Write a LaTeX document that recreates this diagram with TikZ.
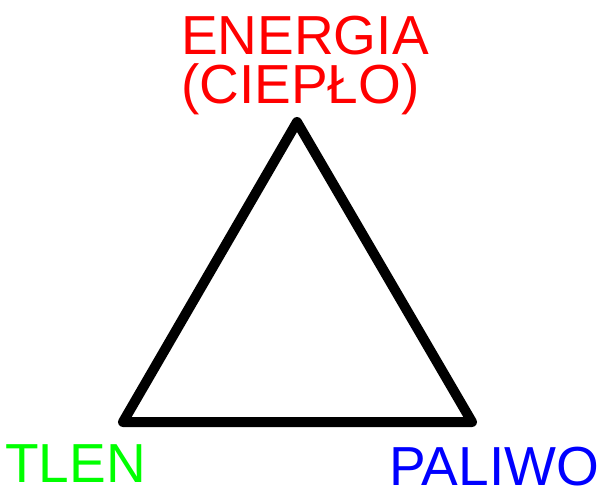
\documentclass[tikz,border=0pt]{standalone}
\usepackage{fontspec}
\setmainfont{Liberation Sans}
\begin{document}
\begin{tikzpicture}[x=1pt,y=-1pt,
  lbl/.style={inner sep=0pt,anchor=base west,text height=0.74em,text depth=0pt,font=\fontsize{55}{60}\selectfont},
  edge/.style={draw=black,line width=10pt,line join=round,line cap=round}]
\useasboundingbox (0,0) rectangle (603,487);
\coordinate (apex) at (297,122);
\coordinate (bl) at (123,422);
\coordinate (br) at (472,422);
\draw[edge] (apex) -- (bl) -- (br) -- cycle;
\node[lbl,text={rgb,255:red,255;green,0;blue,0}] (energia) at (181,55) {ENERGIA};
\node[lbl,text={rgb,255:red,255;green,0;blue,0}] (cieplo) at (181,103) {(CIEPŁO)};
\node[lbl,text={rgb,255:red,0;green,255;blue,0}] (tlen) at (5,482) {TLEN};
\node[lbl,text={rgb,255:red,0;green,0;blue,255}] (paliwo) at (389,485) {PALIWO};
\end{tikzpicture}
\end{document}
